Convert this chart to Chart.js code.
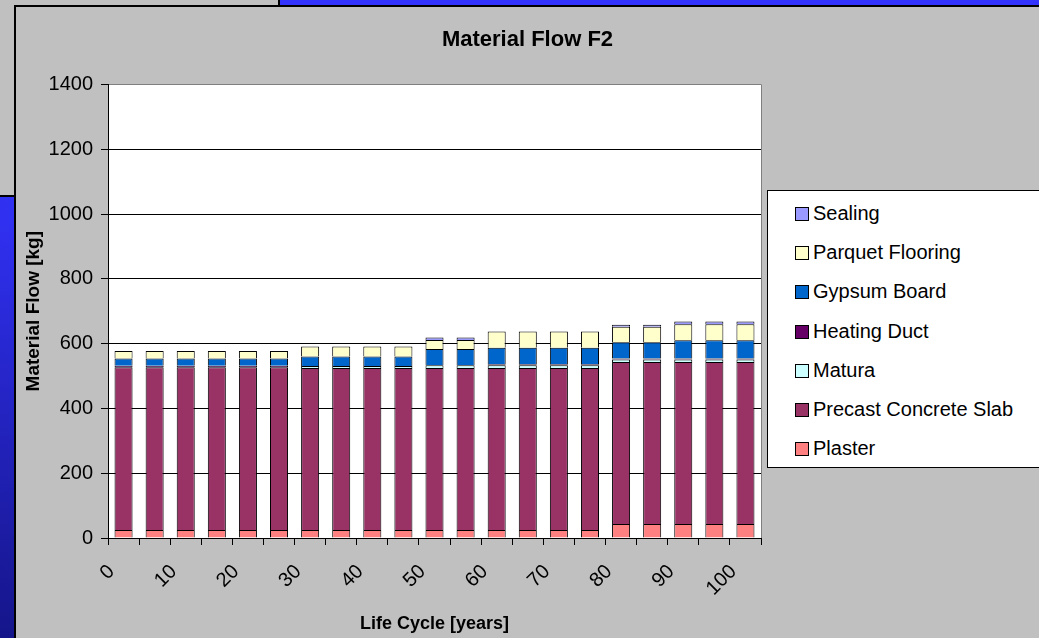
<!DOCTYPE html>
<html>
<head>
<meta charset="utf-8">
<script src="https://cdn.jsdelivr.net/npm/chart.js@4"></script>
<style>
  html, body { margin: 0; padding: 0; }
  body {
    width: 1039px; height: 638px; overflow: hidden; position: relative;
    background: linear-gradient(to bottom, #3333ff 0%, #3030f0 35%, #15158a 100%);
    font-family: "Liberation Sans", Arial, sans-serif;
  }
  #backBox {
    position: absolute; left: 0; top: 0; width: 278px; height: 195px;
    background: #c0c0c0; border-right: 2px solid #000; border-bottom: 2px solid #000;
  }
  #chartBox {
    position: absolute; left: 14px; top: 5px; width: 1030px; height: 640px;
    background: #c0c0c0; border-left: 2px solid #000; border-top: 2px solid #000;
  }
  #chartBox canvas { position: absolute; left: 0; top: 0; }
  #legend {
    position: absolute; left: 767px; top: 190px; width: 300px; height: 276px;
    background: #fff; border: 1px solid #000;
  }
  .item {
    position: absolute; left: 27px; height: 24px; line-height: 24px;
    font-size: 20px; color: #000; white-space: nowrap;
  }
  .item span.box {
    display: inline-block; width: 12px; height: 12px; border: 1px solid #000;
    margin-right: 4px; vertical-align: -1px;
  }
</style>
</head>
<body>
<div id="backBox"></div>
<div id="chartBox">
  <canvas id="flowChart" width="1023" height="631"></canvas>
</div>
<div id="legend"></div>
<script>
// life cycle years, one bar every 5 years
const years = ['0','5','10','15','20','25','30','35','40','45','50','55','60','65','70','75','80','85','90','95','100'];

// material flow in kg
const plaster  = [25,25,25,25,25,25,25,25,25,25,25,25,25,25,25,25,43,43,43,43,43];
const precast  = [502,502,502,502,502,502,500,500,500,500,500,500,500,500,500,500,500,500,500,500,500];
const matura   = [0,0,0,0,0,0,6,6,6,6,8,8,8,8,8,8,8,8,8,8,8];
const heating  = [5,5,5,5,5,5,0,0,0,0,0,0,3,3,3,3,3,3,3,3,3];
const gypsum   = [22,22,22,22,22,22,29,29,29,29,50,50,51,51,51,51,50,50,56,56,56];
const parquet  = [23,23,23,23,23,23,31,31,31,31,28,28,50,50,50,50,48,48,50,50,50];
const sealing  = [0,0,0,0,0,0,0,0,0,0,8,8,0,0,0,0,6,6,8,8,8];

const yTicks = [0, 200, 400, 600, 800, 1000, 1200, 1400];

const series = [
    { label: 'Plaster', data: plaster, color: '#ff8080' },
    { label: 'Precast Concrete Slab', data: precast, color: '#993366' },
    { label: 'Matura', data: matura, color: '#ccffff' },
    { label: 'Heating Duct', data: heating, color: '#660066' },
    { label: 'Gypsum Board', data: gypsum, color: '#0066cc' },
    { label: 'Parquet Flooring', data: parquet, color: '#ffffcc' },
    { label: 'Sealing', data: sealing, color: '#9999ff' }
];

Chart.defaults.font.family = '"Liberation Sans", Arial, sans-serif';
Chart.defaults.color = '#000';

// white plot area with grey right edge
const plotBg = {
    id: 'plotBg',
    beforeDraw(chart) {
        const a = chart.chartArea;
        const ctx = chart.ctx;
        ctx.save();
        ctx.fillStyle = '#fff';
        ctx.fillRect(a.left, a.top, a.right - a.left, a.bottom - a.top);
        ctx.strokeStyle = '#808080';
        ctx.lineWidth = 1;
        ctx.beginPath();
        ctx.moveTo(Math.round(a.right) + 0.5, a.top);
        ctx.lineTo(Math.round(a.right) + 0.5, a.bottom);
        ctx.stroke();
        ctx.restore();
    }
};

new Chart(
    document.getElementById('flowChart'),
    {
        type: 'bar',
        data: {
            labels: years,
            datasets: series.map(s => ({
                label: s.label,
                data: s.data,
                backgroundColor: s.color,
                borderColor: '#000',
                borderWidth: 1,
                barPercentage: 0.58,
                categoryPercentage: 1.0
            }))
        },
        options: {
            responsive: false,
            animation: false,
            layout: { padding: 0 },
            plugins: {
                legend: { display: false },
                tooltip: { enabled: false },
                title: {
                    display: true,
                    text: 'Material Flow F2',
                    font: { size: 22, weight: 'bold' },
                    padding: { top: 20, bottom: 31 }
                }
            },
            scales: {
                x: {
                    stacked: true,
                    afterFit(scale) { scale.height = 100; },
                    grid: { offset: true, drawOnChartArea: false, color: '#000', tickLength: 7 },
                    border: { color: '#000' },
                    ticks: {
                        autoSkip: false,
                        minRotation: 45,
                        maxRotation: 45,
                        padding: 15,
                        labelOffset: -12,
                        font: { size: 20 },
                        callback: function (val, i) {
                            return i % 2 === 0 ? years[i] : '';
                        }
                    },
                    title: {
                        display: true,
                        text: 'Life Cycle [years]',
                        font: { size: 18, weight: 'bold' },
                        padding: { top: 0, bottom: 3 }
                    }
                },
                y: {
                    stacked: true,
                    min: 0,
                    max: yTicks[yTicks.length - 1],
                    afterFit(scale) { scale.width = 92; },
                    afterBuildTicks(scale) { scale.ticks = yTicks.map(v => ({ value: v })); },
                    grid: {
                        color: ctx => (ctx.tick && ctx.tick.value === 1400) ? '#808080' : '#000',
                        tickColor: '#000',
                        tickLength: 7
                    },
                    border: { color: '#000' },
                    ticks: {
                        padding: 8,
                        font: { size: 20 },
                        callback: v => String(v)
                    },
                    title: {
                        display: true,
                        text: 'Material Flow [kg]',
                        font: { size: 19, weight: 'bold' },
                        padding: { top: 6, bottom: 0 }
                    }
                },
                // empty strip on the right that holds the legend box
                side: {
                    position: 'right',
                    afterFit(scale) { scale.width = 278; },
                    grid: { display: false },
                    border: { display: false },
                    ticks: { display: false }
                }
            }
        },
        plugins: [plotBg]
    });

// legend box on the right, top entry is the top of the stack
const legend = document.getElementById('legend');
series.slice().reverse().forEach((s, i) => {
    const row = document.createElement('div');
    row.className = 'item';
    row.style.top = (10 + i * 39.2) + 'px';
    const box = document.createElement('span');
    box.className = 'box';
    box.style.background = s.color;
    row.appendChild(box);
    row.appendChild(document.createTextNode(s.label));
    legend.appendChild(row);
});
</script>
</body>
</html>
